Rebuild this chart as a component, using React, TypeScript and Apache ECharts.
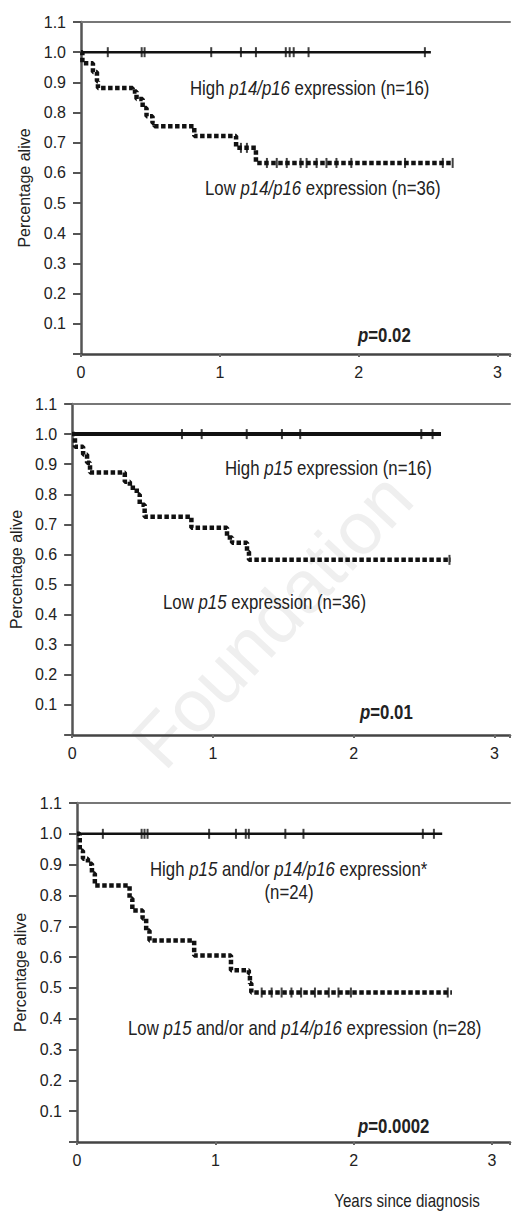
import React, { useEffect, useRef } from 'react';
import * as echarts from 'echarts';

const FONT = "'Liberation Sans', Arial, sans-serif";
const SQUEEZE = 0.84;

// ---------- Data ----------
// Panel 1: p14/p16
const p1HighEnd = 2.52;
const p1HighCensor = [0.193, 0.437, 0.458, 0.938, 1.152, 1.26, 1.475, 1.503, 1.532, 1.639, 2.477];
const p1LowTimes = [0, 0.01, 0.086, 0.115, 0.122, 0.372, 0.40, 0.444, 0.472, 0.515, 0.53, 0.816, 1.117, 1.26, 2.68];
const p1LowSurv = [1.0, 0.963, 0.934, 0.904, 0.881, 0.87, 0.845, 0.815, 0.788, 0.765, 0.755, 0.722, 0.683, 0.633, 0.633];
const p1LowCensorTimes = [1.152, 1.195, 1.339, 1.41, 1.482, 1.582, 1.625, 1.697, 1.768, 1.84, 1.947, 2.334, 2.606, 2.677];
const p1LowCensorSurv = [0.683, 0.683, 0.633, 0.633, 0.633, 0.633, 0.633, 0.633, 0.633, 0.633, 0.633, 0.633, 0.633, 0.633];

// Panel 2: p15
const p2HighEnd = 2.62;
const p2HighCensor = [0.78, 0.92, 1.24, 1.49, 1.62, 2.48, 2.56];
const p2LowTimes = [0, 0.02, 0.078, 0.106, 0.127, 0.374, 0.41, 0.459, 0.48, 0.515, 0.847, 1.10, 1.136, 1.242, 1.256, 2.69];
const p2LowSurv = [1.0, 0.958, 0.932, 0.905, 0.872, 0.842, 0.822, 0.799, 0.765, 0.725, 0.689, 0.656, 0.639, 0.609, 0.582, 0.582];
const p2LowCensorTimes = [2.68];
const p2LowCensorSurv = [0.582];

// Panel 3: p15 and/or p14/p16
const p3HighEnd = 2.64;
const p3HighCensor = [0.187, 0.467, 0.488, 0.51, 0.955, 1.149, 1.22, 1.242, 1.506, 1.637, 2.50, 2.58];
const p3LowTimes = [0, 0.02, 0.043, 0.079, 0.108, 0.129, 0.38, 0.40, 0.474, 0.50, 0.524, 0.847, 1.113, 1.242, 1.25, 1.26, 2.71];
const p3LowSurv = [1.0, 0.945, 0.919, 0.903, 0.871, 0.832, 0.79, 0.751, 0.725, 0.686, 0.654, 0.605, 0.557, 0.547, 0.515, 0.485, 0.485];
const p3LowCensorTimes = [1.335, 1.407, 1.479, 1.55, 1.62, 1.72, 1.82, 1.89, 1.98, 2.68];
const p3LowCensorSurv = [0.485, 0.485, 0.485, 0.485, 0.485, 0.485, 0.485, 0.485, 0.485, 0.485];

const yAxisName = 'Percentage alive';
const xAxisName = 'Years since diagnosis';
const pValues = ['0.02', '0.01', '0.0002'];

const zip = (a: number[], b: number[]) => a.map((v, i) => [v, b[i]]);

function buildOption() {
  const layouts = [
    { left: 81, top: 22, height: 332, xMax: 3.09, nameGap: 48 },
    { left: 72, top: 404, height: 331, xMax: 3.11, nameGap: 35 },
    { left: 77, top: 803, height: 339, xMax: 3.13, nameGap: 41 },
  ];
  const panels = [
    { highEnd: p1HighEnd, highCensor: p1HighCensor, lowT: p1LowTimes, lowS: p1LowSurv, lcT: p1LowCensorTimes, lcS: p1LowCensorSurv, highWidth: 2.5 },
    { highEnd: p2HighEnd, highCensor: p2HighCensor, lowT: p2LowTimes, lowS: p2LowSurv, lcT: p2LowCensorTimes, lcS: p2LowCensorSurv, highWidth: 4 },
    { highEnd: p3HighEnd, highCensor: p3HighCensor, lowT: p3LowTimes, lowS: p3LowSurv, lcT: p3LowCensorTimes, lcS: p3LowCensorSurv, highWidth: 2.5 },
  ];

  const grid = layouts.map((l) => ({ left: l.left, top: l.top, height: l.height, right: 0 }));
  const xBottom = layouts.map((l, i) => ({
    type: 'value', gridIndex: i, min: 0, max: l.xMax, interval: 1, position: 'bottom',
    axisLine: { show: true, onZero: false, lineStyle: { color: '#444', width: 2.5 } },
    axisTick: { show: true, length: 3, lineStyle: { color: '#666', width: 2 } },
    axisLabel: {
      show: true, color: '#222', fontSize: 16, fontFamily: FONT, margin: 10,
      formatter: (v: number) => (Number.isInteger(v) ? String(v) : ''),
    },
    splitLine: { show: false },
  }));
  const xTop = layouts.map((l, i) => ({
    type: 'value', gridIndex: i, min: 0, max: l.xMax, position: 'top',
    axisLine: { show: true, onZero: false, lineStyle: { color: '#777', width: 2 } },
    axisTick: { show: false }, axisLabel: { show: false }, splitLine: { show: false },
  }));
  const yAxis = layouts.map((l, i) => ({
    type: 'value', gridIndex: i, min: 0, max: 1.1, interval: 0.1,
    name: yAxisName, nameLocation: 'middle', nameRotate: 90, nameGap: l.nameGap,
    nameTextStyle: { color: '#222', fontSize: 16, fontFamily: FONT },
    axisLine: { show: true, onZero: false, lineStyle: { color: '#555', width: 2.5 } },
    axisTick: { show: true, length: 8, lineStyle: { color: '#555', width: 2 } },
    axisLabel: {
      color: '#222', fontSize: 16, fontFamily: FONT, margin: 15,
      formatter: (v: number) => (v < 0.05 ? '' : v.toFixed(1)),
    },
    splitLine: { show: false },
  }));

  const series: any[] = [];
  panels.forEach((p, i) => {
    series.push({
      type: 'line', xAxisIndex: i, yAxisIndex: i, showSymbol: false, z: 3,
      data: [[0, 1], [p.highEnd, 1]],
      lineStyle: { color: '#111', width: p.highWidth },
    });
    series.push({
      type: 'scatter', xAxisIndex: i, yAxisIndex: i, symbol: 'rect', symbolSize: [2, 10], z: 4,
      itemStyle: { color: '#111' },
      data: p.highCensor.map((t) => [t, 1]),
    });
    series.push({
      type: 'line', xAxisIndex: i, yAxisIndex: i, showSymbol: false, step: 'end', z: 3,
      data: zip(p.lowT, p.lowS),
      lineStyle: { color: '#111', width: 4.5, type: [4.5, 2.5], cap: 'butt' },
    });
    series.push({
      type: 'scatter', xAxisIndex: i, yAxisIndex: i, symbol: 'rect', symbolSize: [2, 10], z: 4,
      itemStyle: { color: '#111' },
      data: zip(p.lcT, p.lcS),
    });
  });

  const txt = (x: number, y: number, text: string, extra: any = {}) => ({
    type: 'text', x, y, z: 10, scaleX: SQUEEZE, scaleY: 1,
    style: {
      text, fill: '#222', fontSize: 20, fontFamily: FONT,
      textAlign: 'left', textVerticalAlign: 'middle', verticalAlign: 'middle',
      rich: {
        i: { fontStyle: 'italic', fontSize: 20, fontFamily: FONT, fill: '#222' },
        pi: { fontStyle: 'italic', fontWeight: 'bold', fontSize: 20, fontFamily: FONT, fill: '#222' },
        b: { fontWeight: 'bold', fontSize: 20, fontFamily: FONT, fill: '#222' },
      },
      ...extra,
    },
  });

  const graphic: any[] = [
    {
      type: 'text', x: 272, y: 620, rotation: (47 * Math.PI) / 180, z: -10, silent: true,
      style: { text: 'Foundation', fill: '#efefef', fontSize: 74, fontFamily: FONT, textAlign: 'center', textVerticalAlign: 'middle', verticalAlign: 'middle' },
    },
    txt(190, 88, 'High {i|p14/p16} expression (n=16)'),
    txt(205, 188, 'Low {i|p14/p16} expression (n=36)'),
    txt(358, 335, `{pi|p}{b|=${pValues[0]}}`),
    txt(225, 468, 'High {i|p15} expression (n=16)'),
    txt(163, 602, 'Low {i|p15} expression (n=36)'),
    txt(360, 712, `{pi|p}{b|=${pValues[1]}}`),
    txt(150, 869, 'High {i|p15} and/or {i|p14/p16} expression*'),
    txt(289, 892, '(n=24)', { textAlign: 'center' }),
    txt(128, 1028, 'Low {i|p15} and/or and {i|p14/p16} expression (n=28)'),
    txt(358, 1126, `{pi|p}{b|=${pValues[2]}}`),
    txt(407, 1201, xAxisName, { textAlign: 'center', fontSize: 18 }),
  ];

  return {
    animation: false,
    backgroundColor: '#fff',
    grid,
    xAxis: [...xBottom, ...xTop],
    yAxis,
    series,
    graphic,
  };
}

export default function App() {
  const ref = useRef<HTMLDivElement>(null);
  useEffect(() => {
    if (!ref.current) return;
    const chart = echarts.init(ref.current, null, { renderer: 'svg' });
    chart.setOption(buildOption() as any);
    return () => chart.dispose();
  }, []);
  return (
    <div
      ref={ref}
      style={{ position: 'absolute', left: 0, top: 0, width: 513, height: 1212, background: '#fff' }}
    />
  );
}
